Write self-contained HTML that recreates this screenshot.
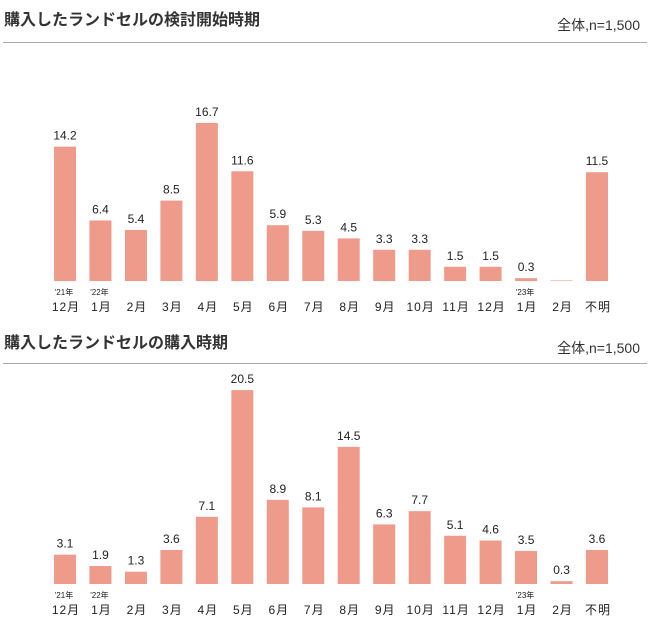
<!DOCTYPE html>
<html><head><meta charset="utf-8"><style>
body{margin:0;background:#fff;}
svg{display:block;font-family:"Liberation Sans","Noto Sans CJK JP",sans-serif;}
</style></head><body>
<svg width="650" height="640" xmlns="http://www.w3.org/2000/svg">
<g fill="#333">
<text x="4" y="25" font-size="16" font-weight="bold">購入したランドセルの検討開始時期</text>
<text x="640" y="30" font-size="14" text-anchor="end">全体,n=1,500</text>
<text x="4" y="348" font-size="16" font-weight="bold">購入したランドセルの購入時期</text>
<text x="640" y="353" font-size="14" text-anchor="end">全体,n=1,500</text>
</g>
<line x1="3" y1="42.5" x2="647" y2="42.5" stroke="#aaa"/>
<line x1="3" y1="363.5" x2="647" y2="363.5" stroke="#aaa"/>
<g id="c"></g>
<script>
const d1=[14.2,6.4,5.4,8.5,16.7,11.6,5.9,5.3,4.5,3.3,3.3,1.5,1.5,0.3,0,11.5];
const d2=[3.1,1.9,1.3,3.6,7.1,20.5,8.9,8.1,14.5,6.3,7.7,5.1,4.6,3.5,0.3,3.6];
const labs=["12月","1月","2月","3月","4月","5月","6月","7月","8月","9月","10月","11月","12月","1月","2月","不明"];
const yrs={0:"'21年",1:"'22年",13:"'23年"};
let s="";
function chart(d,base,skipEmpty){
 // d has 16 entries but 15 bars: indexes 0..14 -> remove index mapping
}
function draw(data,base){
 const vals=data;
 for(let i=0;i<15;i++){
  const v=vals[i];const cx=65+i*38;const h=v*9.46;
  s+=`<rect x="${cx-11}" y="${base-h}" width="22" height="${Math.max(h,1)}" fill="#ef9b8b"/>`;
  if(v>0||i!==14||true){ if(!(v===0)) s+=`<text x="${cx}" y="${base-h-7}" font-size="12" text-anchor="middle" fill="#222">${v.toFixed(1)}</text>`;}
  s+=`<text x="${cx+1}" y="${base+30}" font-size="12" text-anchor="middle" fill="#222" letter-spacing="1">${labs[i===14?15:i]}</text>`;
  if(yrs[i]) s+=`<text x="${cx-1}" y="${base+14}" font-size="8" text-anchor="middle" fill="#222">${yrs[i]}</text>`;
 }
}
const a1=[14.2,6.4,5.4,8.5,16.7,11.6,5.9,5.3,4.5,3.3,3.3,1.5,1.5,0.3,11.5];
const a2=[3.1,1.9,1.3,3.6,7.1,20.5,8.9,8.1,14.5,6.3,7.7,5.1,4.6,3.5,0.3,3.6];
// chart1 has 15 bars with "2月" (empty) before 不明: 16 positions? check
</script>
</svg>
<script>
(function(){
const svg=document.querySelector('svg');
const labs=["12月","1月","2月","3月","4月","5月","6月","7月","8月","9月","10月","11月","12月","1月","2月","不明"];
const yrs={0:"'21年",1:"'22年",13:"'23年"};
const a1=[14.2,6.4,5.4,8.5,16.7,11.6,5.9,5.3,4.5,3.3,3.3,1.5,1.5,0.3,0,11.5];
const a2=[3.1,1.9,1.3,3.6,7.1,20.5,8.9,8.1,14.5,6.3,7.7,5.1,4.6,3.5,0.3,3.6];
let s="";
function draw(vals,base){
 const step=(597-65)/15;
 for(let i=0;i<16;i++){
  const v=vals[i];const cx=65+i*step;const h=v*9.46;
  if(v>0) s+=`<rect x="${cx-11}" y="${base-h}" width="22" height="${Math.max(h,1.5)}" fill="#ef9b8b"/>`;
  else s+=`<rect x="${cx-11}" y="${base-1}" width="22" height="1" fill="#f3c8c0"/>`;
  if(v>0) s+=`<text x="${cx}" y="${base-h-7}" font-size="12" text-anchor="middle" fill="#222">${v.toFixed(1)}</text>`;
  s+=`<text x="${cx+1}" y="${base+30}" font-size="12" text-anchor="middle" fill="#222" letter-spacing="1">${labs[i]}</text>`;
  if(yrs[i]) s+=`<text x="${cx-1}" y="${base+14}" font-size="8" text-anchor="middle" fill="#222">${yrs[i]}</text>`;
 }
}
draw(a1,281);draw(a2,584);
document.getElementById('c').innerHTML=s;
})();
</script>
</body></html>
